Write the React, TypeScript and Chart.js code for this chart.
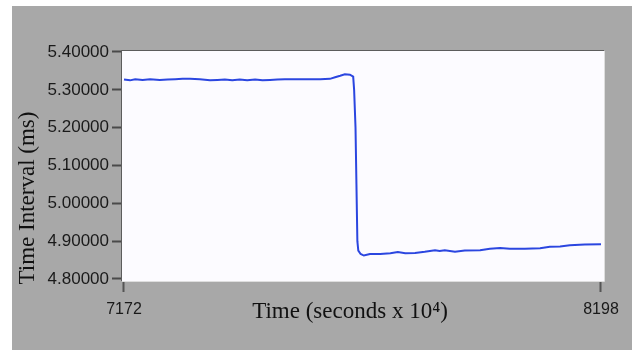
import React, { useEffect, useRef } from "react";
import { Chart, registerables } from "chart.js";

Chart.register(...registerables);

const times = [7172, 7185, 7196, 7212, 7228, 7249, 7266, 7282, 7298, 7314, 7335, 7357, 7373, 7389, 7405, 7421, 7437, 7454, 7470, 7486, 7502, 7518, 7535, 7551, 7572, 7594, 7615, 7626, 7637, 7647, 7658, 7665, 7667, 7670, 7672, 7674, 7676, 7681, 7688, 7701, 7723, 7745, 7761, 7777, 7798, 7819, 7841, 7851, 7862, 7884, 7905, 7938, 7959, 7981, 8002, 8034, 8067, 8088, 8110, 8131, 8163, 8198];
const values = [5.327, 5.325, 5.328, 5.326, 5.328, 5.326, 5.327, 5.328, 5.329, 5.329, 5.328, 5.325, 5.326, 5.327, 5.325, 5.327, 5.325, 5.327, 5.325, 5.326, 5.327, 5.328, 5.328, 5.328, 5.328, 5.328, 5.329, 5.333, 5.337, 5.341, 5.340, 5.335, 5.300, 5.200, 5.050, 4.900, 4.875, 4.866, 4.862, 4.866, 4.866, 4.868, 4.871, 4.868, 4.869, 4.872, 4.876, 4.874, 4.876, 4.872, 4.875, 4.876, 4.880, 4.882, 4.880, 4.880, 4.881, 4.885, 4.886, 4.889, 4.891, 4.892];
const yTickValues = [4.8, 4.9, 5.0, 5.1, 5.2, 5.3, 5.4];
const xTickValues = [7172, 8198];
const xTitle = "Time (seconds x 10\u2074)";
const yTitle = "Time Interval (ms)";

const framePlugin = {
  id: "frame",
  beforeDraw(chart: any) {
    const { ctx, chartArea: a } = chart;
    ctx.save();
    ctx.fillStyle = "#fcfbff";
    ctx.fillRect(a.left, a.top, a.right - a.left, a.bottom - a.top);
    ctx.restore();
  },
  afterDraw(chart: any) {
    const { ctx, chartArea: a } = chart;
    ctx.save();
    ctx.lineWidth = 1;
    ctx.strokeStyle = "#5c5c5c";
    ctx.beginPath();
    ctx.moveTo(a.left - 0.5, a.bottom);
    ctx.lineTo(a.left - 0.5, a.top - 0.5);
    ctx.lineTo(a.right, a.top - 0.5);
    ctx.stroke();
    ctx.strokeStyle = "#dedede";
    ctx.beginPath();
    ctx.moveTo(a.right + 0.5, a.top);
    ctx.lineTo(a.right + 0.5, a.bottom + 0.5);
    ctx.lineTo(a.left, a.bottom + 0.5);
    ctx.stroke();
    ctx.fillStyle = "#111";
    ctx.font = "23px 'Liberation Serif'";
    ctx.textAlign = "center";
    ctx.textBaseline = "middle";
    ctx.fillText(xTitle, 350, 312);
    ctx.translate(28, 198);
    ctx.rotate(-Math.PI / 2);
    ctx.fillText(yTitle, 0, 0);
    ctx.restore();
  },
};

export default function App() {
  const ref = useRef<HTMLCanvasElement | null>(null);
  useEffect(() => {
    if (!ref.current) return;
    const chart = new Chart(ref.current, {
      type: "line",
      data: {
        datasets: [
          {
            data: times.map((t, i) => ({ x: t, y: values[i] })),
            borderColor: "#2b46e0",
            borderWidth: 2,
            pointRadius: 0,
            tension: 0,
            fill: false,
          },
        ],
      },
      options: {
        responsive: false,
        animation: false,
        devicePixelRatio: 1,
        layout: { padding: { top: 51, right: 28, left: 0, bottom: 0 } },
        plugins: { legend: { display: false }, tooltip: { enabled: false }, title: { display: false } },
        scales: {
          x: {
            type: "linear",
            min: 7167.7,
            max: 8204.5,
            afterFit: (s: any) => { s.height = 69; },
            afterBuildTicks: (s: any) => { s.ticks = xTickValues.map((v) => ({ value: v })); },
            grid: { drawOnChartArea: false, drawTicks: true, tickLength: 11, tickColor: "#555", tickWidth: 2 },
            border: { display: false },
            ticks: {
              autoSkip: false,
              maxRotation: 0,
              padding: 8,
              color: "#1a1a1a",
              font: { family: "'Liberation Sans'", size: 16 },
              callback: (v: any) => String(v),
            },
          },
          y: {
            type: "linear",
            min: 4.7947,
            max: 5.4026,
            afterFit: (s: any) => { s.width = 122; },
            afterBuildTicks: (s: any) => { s.ticks = yTickValues.map((v) => ({ value: v })); },
            grid: { drawOnChartArea: false, drawTicks: true, tickLength: 10, tickColor: "#4a4a4a", tickWidth: 2 },
            border: { display: false },
            ticks: {
              autoSkip: false,
              padding: 3,
              color: "#1a1a1a",
              font: { family: "'Liberation Sans'", size: 17 },
              callback: (v: any) => Number(v).toFixed(5),
            },
          },
        },
      },
      plugins: [framePlugin],
    });
    return () => chart.destroy();
  }, []);
  return (
    <div style={{ position: "fixed", left: 0, top: 0, width: 632, height: 350, background: "#ffffff" }}>
      <div style={{ position: "absolute", left: 12, top: 6, width: 620, height: 344, background: "#a8a8a8" }} />
      <canvas ref={ref} width={632} height={350} style={{ position: "absolute", left: 0, top: 0, width: 632, height: 350 }} />
    </div>
  );
}
